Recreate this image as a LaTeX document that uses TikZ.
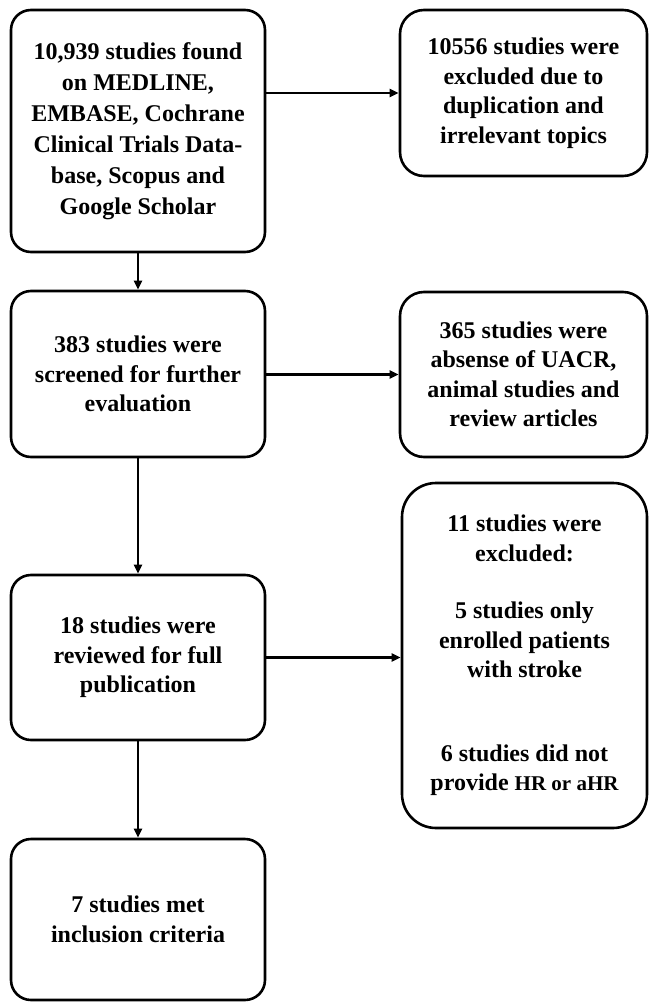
\documentclass[tikz,border=0pt]{standalone}
\usepackage{fontspec}
\setmainfont{Liberation Serif}
\usetikzlibrary{arrows.meta}
\begin{document}
\begin{tikzpicture}[x=1pt,y=-1pt,
  box/.style={draw, line width=2.6pt, rounded corners=20pt, align=center,
    inner sep=0pt, minimum width=254pt,
    font=\fontsize{24}{29.5}\selectfont\bfseries},
  rbox/.style={box, rounded corners=24pt, minimum width=247pt},
  arr/.style={line width=2.2pt, -{Triangle[length=9pt,width=8pt]}}]
\useasboundingbox (0,0) rectangle (649,1003);
% left column
\node[box, minimum height=242pt, font=\fontsize{24}{31}\selectfont\bfseries] (A) at (138,131)
  {10,939 studies found\\on MEDLINE,\\EMBASE, Cochrane\\Clinical Trials Data-\\base, Scopus and\\Google Scholar};
\node[box, minimum height=166pt] (B) at (138,374)
  {383 studies were\\screened for further\\evaluation};
\node[box, minimum height=165pt] (C) at (138,657.5)
  {18 studies were\\reviewed for full\\publication};
\node[box, minimum height=161pt] (D) at (138,919.5)
  {7 studies met\\inclusion criteria};
% right column
\node[rbox, minimum height=166pt] (E) at (523.5,93)
  {10556 studies were\\excluded due to\\duplication and\\irrelevant topics};
\node[rbox, minimum height=165pt] (F) at (523.5,374.5)
  {365 studies were\\absense of UACR,\\animal studies and\\review articles};
\node[rbox, rounded corners=34pt, minimum width=245pt, minimum height=345pt] (G) at (524.5,655.5)
  {11 studies were\\excluded:\\[28pt]5 studies only\\enrolled patients\\with stroke\\[54pt]6 studies did not\\provide {\fontsize{21}{29.5}\selectfont HR or aHR}};
% connectors
\draw[arr] (A.east |- E.west) -- (E.west);
\draw[arr] (B.east |- F.west) -- (F.west);
\draw[arr] (C.east) -- (C.east -| G.west);
\draw[arr] (A.south) -- (B.north);
\draw[arr] (B.south) -- (C.north);
\draw[arr] (C.south) -- (D.north);
\end{tikzpicture}
\end{document}
